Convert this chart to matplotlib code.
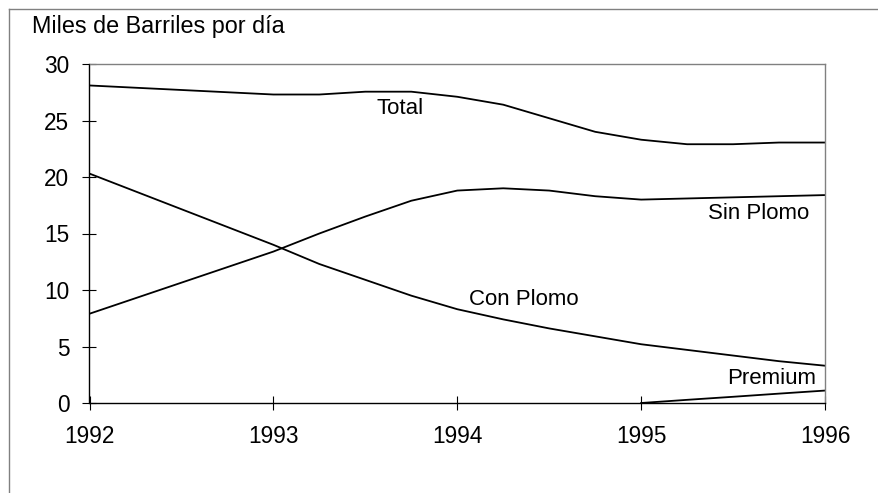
import matplotlib.pyplot as plt
from matplotlib.lines import Line2D

plt.rcParams['font.family'] = ['Liberation Sans', 'DejaVu Sans']

# quarterly points from 1993 on, annual before
years = [1992, 1993, 1993.25, 1993.5, 1993.75, 1994, 1994.25, 1994.5,
         1994.75, 1995, 1995.25, 1995.5, 1995.75, 1996]
total = [28.1, 27.3, 27.3, 27.55, 27.55, 27.1, 26.4, 25.2,
         24.0, 23.3, 22.9, 22.9, 23.05, 23.05]
sin_plomo = [7.9, 13.4, 15.0, 16.5, 17.9, 18.8, 19.0, 18.8,
             18.3, 18.0, 18.1, 18.2, 18.3, 18.4]
con_plomo = [20.3, 14.0, 12.3, 10.9, 9.5, 8.3, 7.4, 6.6,
             5.9, 5.2, 4.7, 4.2, 3.7, 3.3]
premium_years = [1995, 1995.25, 1995.5, 1995.75, 1996]
premium = [0.0, 0.28, 0.55, 0.83, 1.1]

W, H = 879, 493
fig = plt.figure(figsize=(W / 100, H / 100), dpi=100)
ax = fig.add_axes([89.5 / W, (H - 403) / H, (825 - 89.5) / W, (403 - 64) / H])

lw = 1.3
ax.plot(years, total, color='black', lw=lw)
ax.plot(years, sin_plomo, color='black', lw=lw)
ax.plot(years, con_plomo, color='black', lw=lw)
ax.plot(premium_years, premium, color='black', lw=lw)

ax.set_xlim(1992, 1996)
ax.set_ylim(0, 30)
ax.set_xticks([1992, 1993, 1994, 1995, 1996])
ax.set_yticks([0, 5, 10, 15, 20, 25, 30])
ax.tick_params(direction='inout', length=10, width=0.8, labelsize=16.3)
ax.tick_params(axis='y', pad=9.5)
ax.tick_params(axis='x', pad=11)

for s in ['top', 'right']:
    ax.spines[s].set_color('#808080')
for s in ['left', 'bottom']:
    ax.spines[s].set_color('black')
for s in ax.spines.values():
    s.set_linewidth(1.0)

fs = 16
ax.text(1993.69, 26.1, 'Total', fontsize=fs, ha='center', va='center')
ax.text(1995.64, 16.8, 'Sin Plomo', fontsize=fs, ha='center', va='center')
ax.text(1994.36, 9.2, 'Con Plomo', fontsize=fs, ha='center', va='center')
ax.text(1995.71, 2.2, 'Premium', fontsize=fs, ha='center', va='center')

fig.text(32 / W, 1 - 27 / H, 'Miles de Barriles por día', fontsize=16.8,
         ha='left', va='center')

# outer frame (only left and top edges visible)
fig.add_artist(Line2D([8.5 / W, 8.5 / W], [0, 1 - 8.5 / H], color='#808080', lw=1.0))
fig.add_artist(Line2D([8.5 / W, 1], [1 - 8.5 / H, 1 - 8.5 / H], color='#808080', lw=1.0))

fig.savefig('out.png', dpi=100)
